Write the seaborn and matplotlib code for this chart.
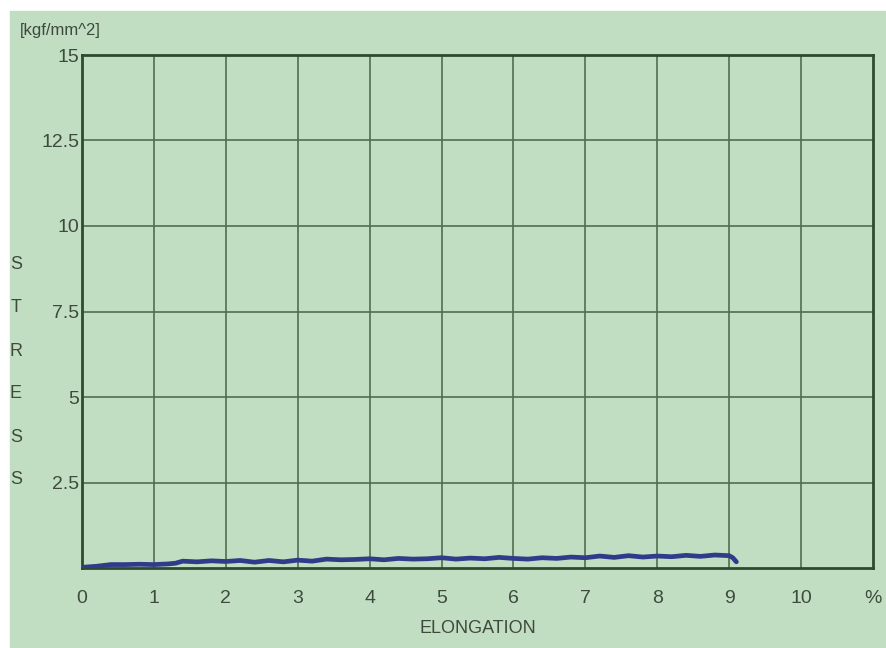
import numpy as np
import pandas as pd
import matplotlib.pyplot as plt
from matplotlib.patches import Rectangle
import seaborn as sns

# elongation (%) and stress (kgf/mm^2)
elongation = [0.0, 0.2, 0.4, 0.6, 0.8, 1.0, 1.2, 1.3, 1.4, 1.6, 1.8, 2.0, 2.2, 2.4,
              2.6, 2.8, 3.0, 3.2, 3.4, 3.6, 3.8, 4.0, 4.2, 4.4, 4.6, 4.8, 5.0, 5.2,
              5.4, 5.6, 5.8, 6.0, 6.2, 6.4, 6.6, 6.8, 7.0, 7.2, 7.4, 7.6, 7.8, 8.0,
              8.2, 8.4, 8.6, 8.8, 9.0, 9.05, 9.1]
stress = [0.02, 0.05, 0.10, 0.10, 0.11, 0.10, 0.12, 0.14, 0.20, 0.18, 0.21, 0.19, 0.22, 0.17,
          0.22, 0.18, 0.23, 0.20, 0.26, 0.24, 0.25, 0.27, 0.24, 0.28, 0.26, 0.27, 0.30, 0.26,
          0.29, 0.27, 0.31, 0.28, 0.26, 0.30, 0.28, 0.32, 0.30, 0.35, 0.31, 0.36, 0.32, 0.35,
          0.33, 0.37, 0.34, 0.38, 0.36, 0.30, 0.18]

x_ticks = [0, 1, 2, 3, 4, 5, 6, 7, 8, 9, 10, 11]
x_labels = ['0', '1', '2', '3', '4', '5', '6', '7', '8', '9', '10', '%']
y_ticks = [2.5, 5, 7.5, 10, 12.5, 15]
y_labels = ['2.5', '5', '7.5', '10', '12.5', '15']

df = pd.DataFrame({'elongation': elongation, 'stress': stress})

sns.set_style('white')
plt.rcParams['font.family'] = ['Liberation Sans Narrow', 'Liberation Sans', 'DejaVu Sans']

bg = '#c2dec2'
ink = '#3f4a3f'
grid = '#4f6e4f'

fig = plt.figure(figsize=(8.86, 6.48), dpi=100, facecolor='white')
fig.add_artist(Rectangle((10 / 886, 0), 1, (648 - 11) / 648,
                         transform=fig.transFigure, color=bg, zorder=-10))

ax = fig.add_axes([82 / 886, 80 / 648, 791 / 886, 513 / 648])
ax.set_facecolor(bg)

sns.lineplot(data=df, x='elongation', y='stress', ax=ax, color='#2f3c8a',
             linewidth=3.4, zorder=3)

ax.set_xlim(0, 11)
ax.set_ylim(0, 15)
ax.set_xticks(x_ticks)
ax.set_xticklabels(x_labels)
ax.set_yticks(y_ticks)
ax.set_yticklabels(y_labels)
ax.tick_params(axis='both', length=0, labelsize=14, colors=ink)
ax.tick_params(axis='x', pad=16)
ax.tick_params(axis='y', pad=2)

for v in x_ticks[1:-1]:
    ax.axvline(v, color=grid, linewidth=1.2, zorder=1)
for v in y_ticks[:-1]:
    ax.axhline(v, color=grid, linewidth=1.2, zorder=1)

for s in ax.spines.values():
    s.set_color('#2f4a2f')
    s.set_linewidth(2)

ax.set_xlabel('ELONGATION', fontsize=13, color=ink, labelpad=9)
ax.set_ylabel('')

fig.text(20 / 886, 1 - 30 / 648, '[kgf/mm^2]', fontsize=12, color=ink, va='center')
for i, ch in enumerate('STRESS'):
    fig.text(16 / 886, 1 - (265 + i * 43) / 648, ch, fontsize=13, color=ink,
             ha='center', va='center')

fig.savefig('out.png', dpi=100, facecolor=fig.get_facecolor())
